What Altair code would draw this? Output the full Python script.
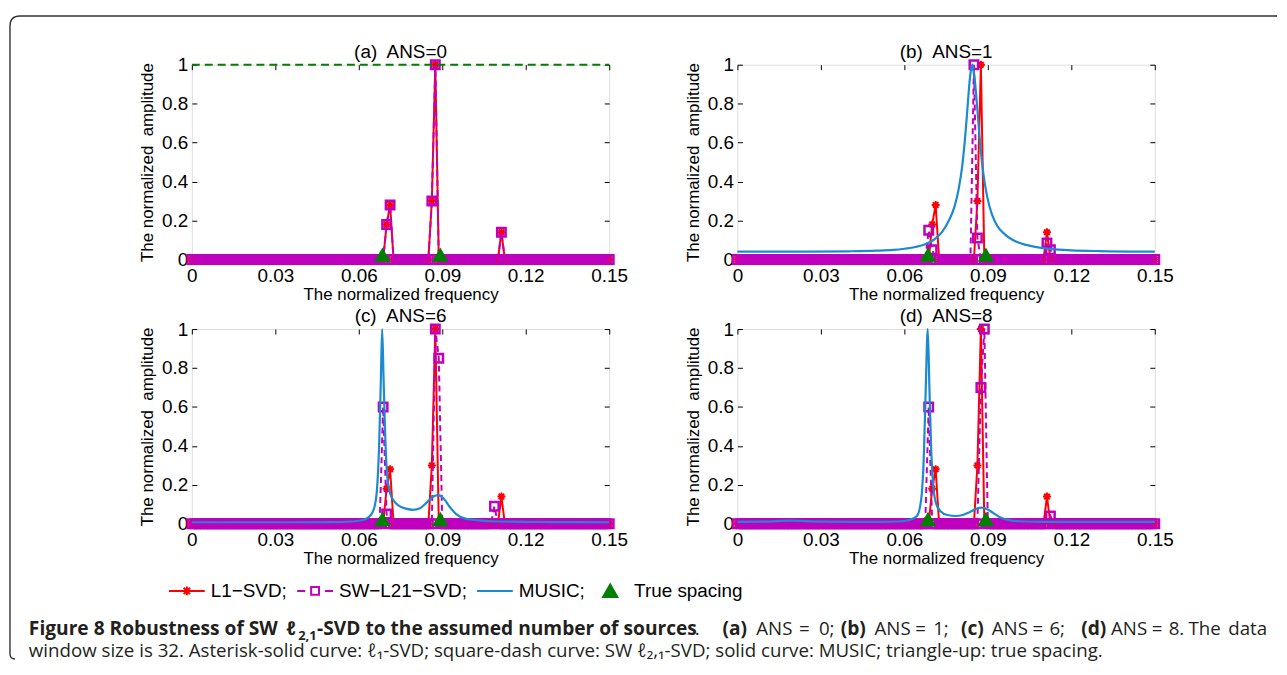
import altair as alt
import pandas as pd

# ---------------- data ----------------
FREQ_STEP = 0.00125
GRID = [round(i * FREQ_STEP, 6) for i in range(121)]   # scan grid 0 .. 0.15

# L1-SVD spikes (identical in every panel)
L1_FREQ = [0.07, 0.07125, 0.08625, 0.0875, 0.11125]
L1_AMP = [0.18, 0.28, 0.30, 1.00, 0.14]

# SW-L21-SVD spikes
SW_A_FREQ = [0.07, 0.07125, 0.08625, 0.0875, 0.11125]
SW_A_AMP = [0.18, 0.28, 0.30, 1.00, 0.14]
SW_B_FREQ = [0.06875, 0.07, 0.085, 0.08625, 0.11125, 0.1125]
SW_B_AMP = [0.15, 0.05, 1.00, 0.11, 0.085, 0.05]
SW_C_FREQ = [0.06875, 0.07, 0.0875, 0.08875, 0.10875]
SW_C_AMP = [0.60, 0.05, 1.00, 0.85, 0.09]
SW_D_FREQ = [0.06875, 0.0875, 0.08875, 0.1125]
SW_D_AMP = [0.60, 0.70, 1.00, 0.04]

# MUSIC spectra
MUSIC_B_FREQ = [0.0, 0.02, 0.04, 0.05, 0.056, 0.06, 0.064, 0.0675, 0.0705, 0.0735,
                0.076, 0.078, 0.0795, 0.0808, 0.0818, 0.0827, 0.0833, 0.0838, 0.0844,
                0.085, 0.0856, 0.0863, 0.0872, 0.0884, 0.0898, 0.0915, 0.0935, 0.096,
                0.099, 0.1025, 0.107, 0.113, 0.12, 0.13, 0.15]
MUSIC_B_AMP = [0.040, 0.040, 0.042, 0.045, 0.049, 0.055, 0.064, 0.078, 0.10, 0.14,
               0.20, 0.27, 0.36, 0.48, 0.62, 0.78, 0.89, 0.96, 1.00,
               0.96, 0.88, 0.76, 0.60, 0.44, 0.32, 0.23, 0.17, 0.13,
               0.10, 0.08, 0.065, 0.053, 0.047, 0.043, 0.040]
MUSIC_C_FREQ = [0.0, 0.03, 0.05, 0.058, 0.062, 0.064, 0.0655, 0.0665, 0.0673, 0.0679,
                0.0684, 0.0689, 0.0695, 0.0702, 0.0712, 0.0725, 0.0745, 0.077, 0.0795,
                0.082, 0.0845, 0.0868, 0.0885, 0.0905, 0.0925, 0.095, 0.098, 0.103,
                0.11, 0.13, 0.15]
MUSIC_C_AMP = [0.008, 0.008, 0.009, 0.012, 0.022, 0.04, 0.08, 0.17, 0.40, 0.72,
               1.00, 0.75, 0.45, 0.25, 0.16, 0.12, 0.092, 0.078, 0.072,
               0.08, 0.11, 0.14, 0.147, 0.13, 0.09, 0.05, 0.028, 0.018,
               0.012, 0.009, 0.008]
MUSIC_D_FREQ = [0.0, 0.01, 0.019, 0.03, 0.05, 0.058, 0.062, 0.0645, 0.066, 0.067,
                0.0677, 0.0684, 0.069, 0.0697, 0.0705, 0.0715, 0.073, 0.0755, 0.0785,
                0.081, 0.0835, 0.0858, 0.0878, 0.0898, 0.092, 0.0945, 0.098, 0.103,
                0.11, 0.13, 0.15]
MUSIC_D_AMP = [0.01, 0.011, 0.016, 0.011, 0.01, 0.012, 0.02, 0.04, 0.12, 0.35,
               0.70, 1.00, 0.70, 0.36, 0.18, 0.10, 0.065, 0.045, 0.04,
               0.045, 0.06, 0.077, 0.083, 0.075, 0.055, 0.032, 0.018, 0.012,
               0.01, 0.01, 0.01]

TRUE_FREQ = [0.0685, 0.0893]
TRUE_AMP = [0.025, 0.025]

A_DASH_FREQ = [0.0, 0.15]
A_DASH_AMP = [1.0, 1.0]

PANEL_TITLES = ["(a)\u00a0 ANS=0", "(b)\u00a0 ANS=1", "(c)\u00a0 ANS=6", "(d)\u00a0 ANS=8"]
X_TICKS = [0, 0.03, 0.06, 0.09, 0.12, 0.15]
Y_TICKS = [0, 0.2, 0.4, 0.6, 0.8, 1]
X_TITLE = "The normalized frequency"
Y_TITLE = "The normalized\u00a0 amplitude"

LEGEND_LABELS = ["L1\u2212SVD;", "SW\u2212L21\u2212SVD;", "MUSIC;", "True spacing"]

CAPTION_L1_TEXT = ["Figure 8 Robustness of SW", "\u2113", "2,1",
                   "-SVD to the assumed number of sources", ".",
                   "(a)", "ANS", "=", "0;", "(b)", "ANS", "=", "1;",
                   "(c)", "ANS", "=", "6;", "(d)", "ANS", "=", "8.", "The", "data"]
CAPTION_L1_BOLD = [True, True, True, True, False,
                   True, False, False, False, True, False, False, False,
                   True, False, False, False, True, False, False, False, False, False]
CAPTION_L2_TEXT = ("window size is 32. Asterisk-solid curve: \u2113\u2081-SVD; square-dash curve: "
                   "SW \u2113\u2082,\u2081-SVD; solid curve: MUSIC; triangle-up: true spacing.")

# ---------------- layout / style ----------------
W, H = 420, 196
ROOT_X, ROOT_Y = 192, 62        # page position of panel (a) plot area (layout root)
DEC_X, DEC_Y = 192, 594         # page position of the decoration cell (row 3)
CAP_L1_X = [28, 287, 299, 318, 698,
            726, 760, 803, 823, 845, 879, 920, 938,
            966, 997, 1038, 1055, 1087, 1117, 1158, 1175, 1195, 1235]
CAP_L1_Y = 636
CAP_L2_Y = 658
FONT = "Liberation Sans"
CAP_FONT = "Open Sans"
RED, MAG, BLUE, GREEN = "#ff0000", "#bf00bf", "#1b8ad0", "#008000"
STAR = "M-1,0L1,0M0,-1L0,1M-0.7,-0.7L0.7,0.7M-0.7,0.7L0.7,-0.7"

XSC = alt.Scale(domain=[0, 0.15], nice=False, zero=False)
YSC = alt.Scale(domain=[0, 1], nice=False, zero=False)

AX_MAIN = alt.Axis(orient="bottom", values=X_TICKS, format="~g", title=X_TITLE,
                   ticks=False, tickSize=0, domain=False, grid=False,
                   labelFont=FONT, labelFontSize=19, labelColor="black", labelPadding=7,
                   labelFlush=False, labelOverlap=False,
                   titleFont=FONT, titleFontSize=17, titleColor="black",
                   titleFontWeight="normal", titlePadding=1)
AY_MAIN = alt.Axis(orient="left", values=Y_TICKS, format="~g", title=Y_TITLE,
                   ticks=False, tickSize=0, domain=False, grid=False,
                   labelFont=FONT, labelFontSize=19, labelColor="black", labelPadding=4,
                   labelFlush=False, labelOverlap=False,
                   titleFont=FONT, titleFontSize=17, titleColor="black",
                   titleFontWeight="normal", titlePadding=5)


def tick_axis(orient, offset, values):
    return alt.Axis(orient=orient, offset=offset, values=values, labels=False,
                    ticks=True, tickSize=5, tickColor="black", tickWidth=1,
                    domain=False, grid=False, title=None)


AX_IN_BOTTOM = tick_axis("top", -H, X_TICKS)
AX_IN_TOP = tick_axis("bottom", -H, X_TICKS)
AY_IN_LEFT = tick_axis("right", -W, Y_TICKS)
AY_IN_RIGHT = tick_axis("left", -W, Y_TICKS)


def spikes_on_grid(freqs, amps):
    lookup = {round(f, 6): a for f, a in zip(freqs, amps)}
    return [lookup.get(g, 0.0) for g in GRID]


def decoration_cell():
    one = pd.DataFrame({"k": [0]})
    layers = []
    # figure frame (top + left edge with rounded corners)
    fl, ft, fr, fb, r = 9 - DEC_X, 13 - DEC_Y, 1284 - DEC_X, 660 - DEC_Y, 10
    frame = (f"M{fl + 5},{fb} Q{fl},{fb} {fl},{fb - 5} L{fl},{ft + r} "
             f"Q{fl},{ft} {fl + r},{ft} L{fr},{ft}")
    layers.append(alt.Chart(one).mark_point(shape=frame, size=4, filled=False, stroke="#333333",
                                            strokeWidth=1.4, strokeJoin="round",
                                            strokeCap="butt", opacity=1)
                  .encode(x=alt.value(0), y=alt.value(0)))
    # caption line 1 (runs of bold / regular text)
    for txt, bold, px in zip(CAPTION_L1_TEXT, CAPTION_L1_BOLD, CAP_L1_X):
        size, dy, style = (19.3 if bold else 18.8), 0, "normal"
        if txt == "2,1":
            size, dy = 13, 5
        if txt == "\u2113":
            style = "italic"
        layers.append(alt.Chart(one).mark_text(text=txt, font=CAP_FONT, fontSize=size,
                                               fontWeight="bold" if bold else "normal",
                                               fontStyle=style, color="#231f20",
                                               align="left", baseline="alphabetic")
                      .encode(x=alt.value(px - DEC_X), y=alt.value(CAP_L1_Y + dy - DEC_Y)))
    layers.append(alt.Chart(one).mark_text(text=CAPTION_L2_TEXT, font=CAP_FONT, fontSize=18.8,
                                           color="#231f20", align="left", baseline="alphabetic")
                  .encode(x=alt.value(28 - DEC_X), y=alt.value(CAP_L2_Y - DEC_Y)))
    # legend (built from an empty layer carrying the series scales; placed in root coords)
    leg = alt.Legend(title=None, orient="none", legendX=168 - ROOT_X, legendY=572 - ROOT_Y,
                     direction="horizontal", columns=4, symbolSize=1296, symbolStrokeWidth=2,
                     symbolOpacity=1, labelFont=FONT, labelFontSize=19, labelColor="black",
                     labelOffset=5, columnPadding=6, padding=0, labelLimit=400)
    leg_df = pd.DataFrame({"series": LEGEND_LABELS})
    shapes = ["M-1,0L1,0M-0.25,0L0.25,0M0,-0.25L0,0.25M-0.18,-0.18L0.18,0.18M-0.18,0.18L0.18,-0.18",
              "M-1,0L-0.55,0M0.55,0L1,0M-0.22,-0.22L0.22,-0.22L0.22,0.22L-0.22,0.22Z",
              "M-1,0L1,0",
              "M0,-0.36L0.4,0.34L-0.4,0.34Z"]
    layers.append(alt.Chart(leg_df).transform_filter("false")
                  .mark_point(filled=True, opacity=1)
                  .encode(fill=alt.Fill("series:N", scale=alt.Scale(domain=LEGEND_LABELS,
                                        range=["transparent", "transparent", "transparent", GREEN]),
                                        legend=leg),
                          stroke=alt.Stroke("series:N", scale=alt.Scale(domain=LEGEND_LABELS,
                                            range=[RED, MAG, BLUE, GREEN]), legend=leg),
                          shape=alt.Shape("series:N", scale=alt.Scale(domain=LEGEND_LABELS,
                                          range=shapes), legend=leg)))
    return (alt.layer(*layers)
            .properties(width=1, height=1, view=alt.ViewBackground(stroke="transparent")))


def panel(title, sw_f, sw_a, music_f=None, music_a=None, dash=False):
    grid_df = pd.DataFrame({"f": GRID,
                            "l1": spikes_on_grid(L1_FREQ, L1_AMP),
                            "sw": spikes_on_grid(sw_f, sw_a)})
    base = alt.Chart(grid_df)
    layers = []
    layers.append(base.mark_line(color=RED, strokeWidth=2)
                  .encode(x=alt.X("f:Q", scale=XSC, axis=AX_MAIN),
                          y=alt.Y("l1:Q", scale=YSC, axis=AY_MAIN)))
    layers.append(base.mark_point(shape=STAR, size=64, filled=False, color=RED,
                                  strokeWidth=2, opacity=1)
                  .encode(x=alt.X("f:Q", scale=XSC, axis=AX_IN_BOTTOM),
                          y=alt.Y("l1:Q", scale=YSC, axis=AY_IN_LEFT)))
    layers.append(base.mark_line(color=MAG, strokeWidth=2, strokeDash=[6, 4])
                  .encode(x=alt.X("f:Q", scale=XSC, axis=AX_IN_TOP),
                          y=alt.Y("sw:Q", scale=YSC, axis=AY_IN_RIGHT)))
    layers.append(base.mark_point(shape="square", size=72, filled=False, color=MAG,
                                  strokeWidth=2.5, opacity=1)
                  .encode(x=alt.X("f:Q", scale=XSC, axis=None),
                          y=alt.Y("sw:Q", scale=YSC, axis=None)))
    if music_f is not None:
        mdf = pd.DataFrame({"f": music_f, "amp": music_a})
        layers.append(alt.Chart(mdf).mark_line(color=BLUE, strokeWidth=2.2, interpolate="monotone")
                      .encode(x=alt.X("f:Q", scale=XSC, axis=None),
                              y=alt.Y("amp:Q", scale=YSC, axis=None)))
    if dash:
        ddf = pd.DataFrame({"f": A_DASH_FREQ, "amp": A_DASH_AMP})
        layers.append(alt.Chart(ddf).mark_line(color=GREEN, strokeWidth=2, strokeDash=[8, 5])
                      .encode(x=alt.X("f:Q", scale=XSC, axis=None),
                              y=alt.Y("amp:Q", scale=YSC, axis=None)))
    tdf = pd.DataFrame({"f": TRUE_FREQ, "amp": TRUE_AMP})
    layers.append(alt.Chart(tdf).mark_point(shape="triangle-up", size=280, filled=True,
                                            color=GREEN, opacity=1)
                  .encode(x=alt.X("f:Q", scale=XSC, axis=None),
                          y=alt.Y("amp:Q", scale=YSC, axis=None)))
    return (alt.layer(*layers)
            .resolve_axis(x="independent", y="independent")
            .properties(width=W, height=H,
                        title=alt.TitleParams(text=title, font=FONT, fontSize=19,
                                              fontWeight="normal", color="black",
                                              offset=-6, anchor="middle")))


pa = panel(PANEL_TITLES[0], SW_A_FREQ, SW_A_AMP, dash=True)
pb = panel(PANEL_TITLES[1], SW_B_FREQ, SW_B_AMP, MUSIC_B_FREQ, MUSIC_B_AMP)
pc = panel(PANEL_TITLES[2], SW_C_FREQ, SW_C_AMP, MUSIC_C_FREQ, MUSIC_C_AMP)
pdd = panel(PANEL_TITLES[3], SW_D_FREQ, SW_D_AMP, MUSIC_D_FREQ, MUSIC_D_AMP)
dec = decoration_cell()

chart = (alt.concat(pa, pb, pc, pdd, dec, columns=2, spacing={"row": 70, "column": 129},
                    bounds="flush")
         .properties(padding={"left": 0, "top": 4, "right": 0, "bottom": 0})
         .configure_view(stroke="black", strokeWidth=1)
         .configure(background="white"))

chart.save("out.html", embed_options={"renderer": "svg", "actions": False})
